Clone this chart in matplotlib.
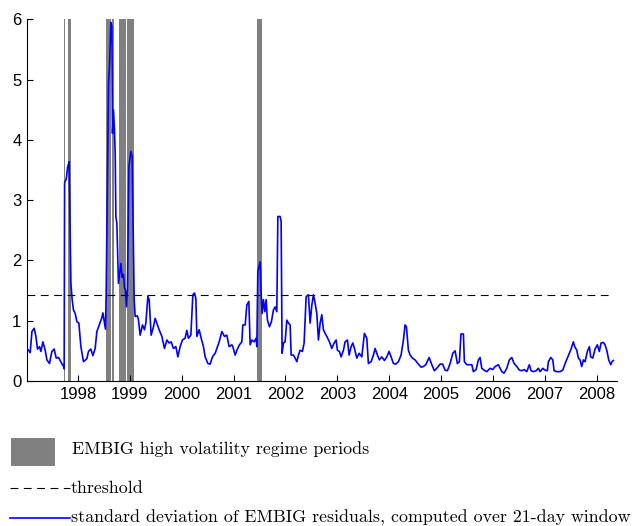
import numpy as np
import matplotlib
matplotlib.use("Agg")
import matplotlib.pyplot as plt
from matplotlib.patches import Rectangle
from matplotlib.lines import Line2D

plt.rcParams['font.family'] = ['Liberation Sans', 'DejaVu Sans']

# rolling standard deviation of EMBIG residuals (decimal year, value)
dates = [
    1997.029, 1997.081, 1997.114, 1997.158, 1997.191, 1997.222, 1997.260, 1997.287,
    1997.326, 1997.370, 1997.403, 1997.453, 1997.499, 1997.543, 1997.582, 1997.626,
    1997.672, 1997.723, 1997.736, 1997.744, 1997.775, 1997.803, 1997.832, 1997.865,
    1997.890, 1997.915, 1997.948, 1997.981, 1998.019, 1998.058, 1998.108, 1998.173,
    1998.204, 1998.250, 1998.289, 1998.333, 1998.366, 1998.416, 1998.462, 1998.482,
    1998.507, 1998.532, 1998.545, 1998.590, 1998.609, 1998.636, 1998.655, 1998.667,
    1998.686, 1998.705, 1998.719, 1998.732, 1998.751, 1998.782, 1998.829, 1998.854,
    1998.879, 1998.898, 1998.917, 1998.936, 1998.956, 1998.983, 1999.021, 1999.046,
    1999.085, 1999.104, 1999.148, 1999.168, 1999.200, 1999.245, 1999.283, 1999.310,
    1999.349, 1999.374, 1999.412, 1999.457, 1999.489, 1999.522, 1999.566, 1999.619,
    1999.669, 1999.715, 1999.759, 1999.798, 1999.842, 1999.888, 1999.927, 1999.971,
    2000.015, 2000.067, 2000.100, 2000.131, 2000.177, 2000.216, 2000.247, 2000.274,
    2000.293, 2000.337, 2000.376, 2000.420, 2000.453, 2000.505, 2000.549, 2000.594,
    2000.646, 2000.678, 2000.723, 2000.775, 2000.825, 2000.871, 2000.915, 2000.967,
    2000.986, 2001.031, 2001.064, 2001.114, 2001.160, 2001.179, 2001.224, 2001.256,
    2001.295, 2001.320, 2001.353, 2001.397, 2001.436, 2001.449, 2001.468, 2001.513,
    2001.532, 2001.551, 2001.576, 2001.603, 2001.628, 2001.653, 2001.692, 2001.730,
    2001.769, 2001.802, 2001.834, 2001.854, 2001.898, 2001.917, 2001.936, 2001.962,
    2001.994, 2002.027, 2002.058, 2002.091, 2002.110, 2002.154, 2002.187, 2002.220,
    2002.251, 2002.283, 2002.328, 2002.360, 2002.399, 2002.443, 2002.476, 2002.509,
    2002.540, 2002.572, 2002.605, 2002.636, 2002.669, 2002.701, 2002.732, 2002.765,
    2002.798, 2002.848, 2002.894, 2002.938, 2002.977, 2003.002, 2003.041, 2003.073,
    2003.118, 2003.150, 2003.195, 2003.227, 2003.266, 2003.299, 2003.330, 2003.376,
    2003.420, 2003.472, 2003.522, 2003.568, 2003.599, 2003.651, 2003.696, 2003.728,
    2003.773, 2003.811, 2003.857, 2003.908, 2003.954, 2003.998, 2004.037, 2004.081,
    2004.127, 2004.177, 2004.229, 2004.274, 2004.306, 2004.332, 2004.370, 2004.403,
    2004.447, 2004.499, 2004.551, 2004.615, 2004.659, 2004.705, 2004.769, 2004.821,
    2004.871, 2004.917, 2004.981, 2005.029, 2005.077, 2005.122, 2005.174, 2005.226,
    2005.270, 2005.314, 2005.353, 2005.383, 2005.430, 2005.449, 2005.495, 2005.545,
    2005.592, 2005.622, 2005.675, 2005.719, 2005.751, 2005.784, 2005.828, 2005.881,
    2005.944, 2005.996, 2006.041, 2006.104, 2006.170, 2006.214, 2006.266, 2006.316,
    2006.362, 2006.407, 2006.459, 2006.509, 2006.555, 2006.600, 2006.651, 2006.701,
    2006.734, 2006.779, 2006.831, 2006.875, 2006.908, 2006.960, 2007.004, 2007.048,
    2007.068, 2007.114, 2007.153, 2007.178, 2007.229, 2007.293, 2007.345, 2007.390,
    2007.434, 2007.472, 2007.505, 2007.549, 2007.576, 2007.615, 2007.646, 2007.678,
    2007.711, 2007.742, 2007.775, 2007.819, 2007.858, 2007.884, 2007.923, 2007.967,
    2008.012, 2008.050, 2008.083, 2008.127, 2008.160, 2008.193, 2008.231, 2008.270,
    2008.295, 2008.320,
]
std_dev = [
    0.53, 0.47, 0.82, 0.875, 0.74, 0.53, 0.57, 0.49,
    0.65, 0.51, 0.35, 0.29, 0.49, 0.53, 0.38, 0.39,
    0.32, 0.24, 0.20, 3.29, 3.35, 3.55, 3.64, 1.63,
    1.35, 1.18, 1.12, 0.985, 0.96, 0.57, 0.32, 0.37,
    0.49, 0.53, 0.42, 0.54, 0.82, 0.94, 1.05, 1.13,
    0.99, 0.86, 1.43, 4.94, 5.22, 5.95, 5.88, 4.11,
    4.50, 4.17, 3.78, 2.73, 2.62, 1.62, 1.95, 1.72,
    1.77, 1.55, 1.50, 1.23, 1.55, 3.56, 3.81, 3.73,
    1.35, 1.07, 1.08, 1.01, 0.76, 0.93, 0.85, 0.96,
    1.40, 1.35, 0.76, 0.90, 1.04, 0.96, 0.85, 0.74,
    0.54, 0.68, 0.63, 0.65, 0.54, 0.57, 0.40, 0.57,
    0.68, 0.71, 0.84, 0.71, 0.76, 1.43, 1.46, 1.37,
    0.74, 0.85, 0.71, 0.57, 0.40, 0.29, 0.28, 0.40,
    0.46, 0.54, 0.65, 0.82, 0.74, 0.76, 0.57, 0.60,
    0.57, 0.43, 0.51, 0.60, 0.65, 0.93, 0.93, 1.26,
    1.32, 0.60, 0.68, 0.65, 0.71, 0.57, 1.82, 1.98,
    1.46, 1.12, 1.35, 1.15, 1.35, 1.01, 0.90, 0.985,
    1.18, 1.23, 1.15, 2.73, 2.73, 2.65, 0.46, 0.63,
    0.65, 1.01, 0.96, 0.93, 0.43, 0.43, 0.38, 0.32,
    0.43, 0.51, 0.49, 0.63, 1.40, 1.43, 0.96, 1.26,
    1.43, 1.29, 1.12, 0.68, 0.96, 1.10, 0.85, 0.79,
    0.74, 0.65, 0.54, 0.63, 0.68, 0.51, 0.49, 0.40,
    0.51, 0.65, 0.68, 0.43, 0.57, 0.63, 0.54, 0.38,
    0.46, 0.40, 0.79, 0.71, 0.29, 0.32, 0.43, 0.54,
    0.43, 0.35, 0.40, 0.34, 0.40, 0.49, 0.40, 0.29,
    0.28, 0.32, 0.43, 0.68, 0.93, 0.90, 0.51, 0.43,
    0.38, 0.35, 0.29, 0.23, 0.24, 0.27, 0.39, 0.27,
    0.17, 0.21, 0.28, 0.28, 0.18, 0.17, 0.29, 0.46,
    0.50, 0.29, 0.32, 0.78, 0.78, 0.32, 0.27, 0.27,
    0.27, 0.155, 0.19, 0.35, 0.39, 0.21, 0.18, 0.155,
    0.21, 0.19, 0.24, 0.27, 0.155, 0.13, 0.21, 0.35,
    0.39, 0.29, 0.24, 0.18, 0.17, 0.19, 0.155, 0.27,
    0.17, 0.155, 0.17, 0.21, 0.155, 0.21, 0.18, 0.17,
    0.32, 0.39, 0.35, 0.17, 0.155, 0.155, 0.18, 0.29,
    0.38, 0.46, 0.53, 0.65, 0.57, 0.51, 0.38, 0.35,
    0.24, 0.35, 0.32, 0.49, 0.57, 0.40, 0.38, 0.53,
    0.60, 0.49, 0.63, 0.64, 0.60, 0.51, 0.35, 0.27,
    0.32, 0.34,
]

# high volatility regime periods (start, end)
regime_start = [1997.736, 1997.813, 1998.545, 1998.661, 1998.796, 1998.950, 2001.455]
regime_end = [1997.755, 1997.871, 1998.642, 1998.700, 1998.930, 1999.085, 2001.551]

threshold = 1.42
years = list(range(1998, 2009))

fig = plt.figure(figsize=(6.33, 5.26), dpi=100)
ax = fig.add_axes([0.0427, 0.2757, 0.932, 0.6873])

for s, e in zip(regime_start, regime_end):
    ax.axvspan(s, e, color='#808080', lw=0, zorder=1)

ax.plot(dates, std_dev, color='#0000ff', lw=1.2, zorder=3)
ax.hlines(threshold, dates[0], dates[-1], colors='k', lw=0.8,
          linestyles=(0, (7, 5)), zorder=2)

ax.set_xlim(1997.02, 2008.39)
ax.set_ylim(0, 6)
ax.set_xticks(years)
ax.set_xticklabels([str(y) for y in years])
ax.set_yticks(range(7))
ax.tick_params(direction='in', length=4.5, width=0.8, labelsize=12, pad=4)
ax.spines['top'].set_visible(False)
ax.spines['right'].set_visible(False)

# key below the plot
W, H = 633, 526
fig.patches.append(Rectangle((11 / W, 1 - 466 / H), 44 / W, 28 / H,
                             transform=fig.transFigure, color='#808080', lw=0))
fig.lines.append(Line2D([10 / W, 70 / W], [1 - 488 / H] * 2, transform=fig.transFigure,
                        color='k', lw=0.8, linestyle=(0, (7, 5))))
fig.lines.append(Line2D([10 / W, 70 / W], [1 - 518 / H] * 2, transform=fig.transFigure,
                        color='#0000ff', lw=1.2))
key_font = dict(family='cmr10', size=12.9, va='center', ha='left')
fig.text(72 / W, 1 - 449 / H, 'EMBIG high volatility regime periods', **key_font)
fig.text(71 / W, 1 - 488 / H, 'threshold', **key_font)
fig.text(71 / W, 1 - 518 / H,
         'standard deviation of EMBIG residuals, computed over 21-day window', **key_font)

fig.savefig('out.png', dpi=100)
